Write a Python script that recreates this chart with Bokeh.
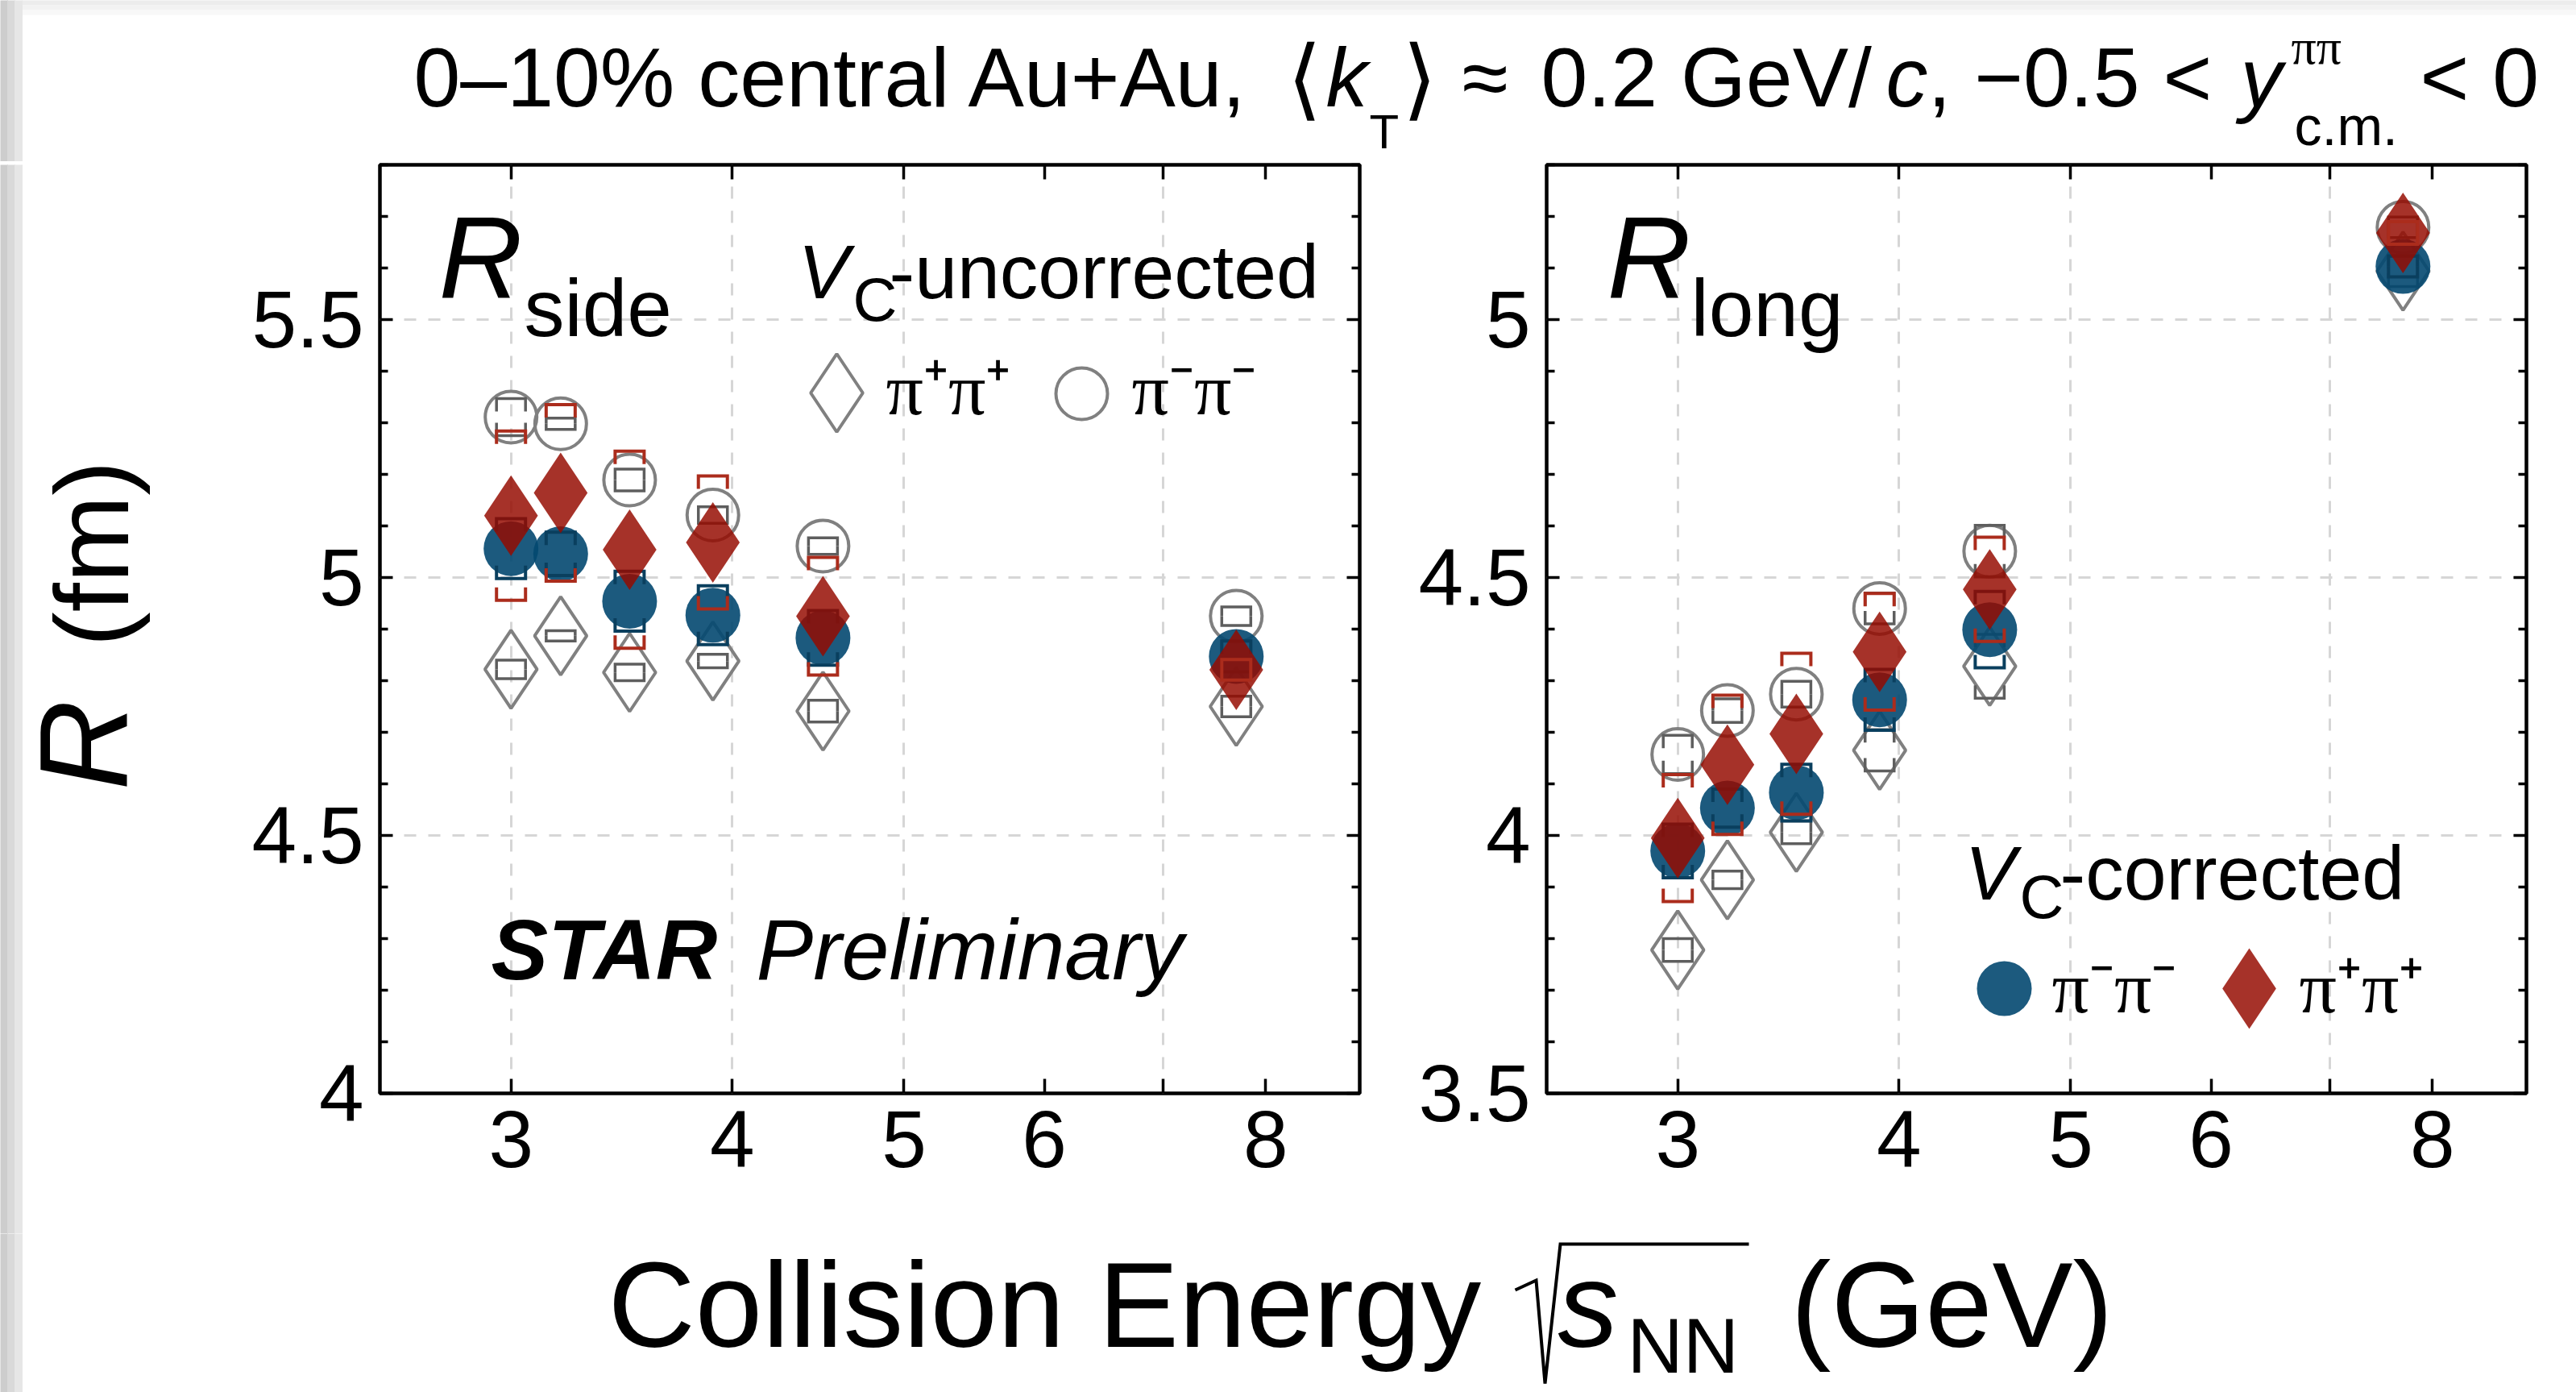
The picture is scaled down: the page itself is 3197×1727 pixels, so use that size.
import math
from bokeh.plotting import figure
from bokeh.models import Range1d, FixedTicker, LogAxis, LinearAxis, Label
from bokeh.layouts import column, row
from bokeh.embed import file_html
from bokeh.resources import INLINE

# ---------------- data ----------------
energy = [3.0, 3.2, 3.5, 3.9, 4.5, 7.7]          # sqrt(s_NN) (GeV)

# R_side (fm)
rside_pp_uncorr = [4.822, 4.887, 4.816, 4.838, 4.741, 4.750]
rside_pp_uncorr_sys = [0.018, 0.010, 0.016, 0.013, 0.021, 0.020]
rside_mm_uncorr = [5.311, 5.298, 5.189, 5.121, 5.061, 4.925]
rside_mm_uncorr_sys = [0.036, 0.011, 0.021, 0.016, 0.016, 0.018]
rside_mm_corr = [5.056, 5.046, 4.954, 4.927, 4.883, 4.847]
rside_mm_corr_sys = [0.058, 0.042, 0.058, 0.057, 0.053, 0.030]
rside_pp_corr = [5.120, 5.164, 5.054, 5.068, 4.925, 4.821]
rside_pp_corr_sys = [0.164, 0.171, 0.191, 0.129, 0.114, 0.020]

# R_long (fm)
rlong_pp_uncorr = [3.778, 3.914, 4.006, 4.165, 4.328, 5.094]
rlong_pp_uncorr_sys = [0.022, 0.017, 0.022, 0.040, 0.062, 0.030]
rlong_mm_uncorr = [4.157, 4.242, 4.274, 4.440, 4.551, 5.179]
rlong_mm_uncorr_sys = [0.037, 0.023, 0.025, 0.030, 0.050, 0.020]
rlong_mm_corr = [3.970, 4.053, 4.083, 4.263, 4.399, 5.103]
rlong_mm_corr_sys = [0.052, 0.037, 0.055, 0.059, 0.074, 0.020]
rlong_pp_corr = [3.995, 4.137, 4.197, 4.356, 4.477, 5.168]
rlong_pp_corr_sys = [0.123, 0.135, 0.156, 0.113, 0.101, 0.022]

x_ticks = [3, 4, 5, 6, 7, 8]
x_tick_labels = ["3", "4", "5", "6", "", "8"]
x_grid = [3, 4, 5, 7]
rside_range = (4.0, 5.8)
rside_ticks = [4.0, 4.5, 5.0, 5.5]
rside_tick_labels = ["4", "4.5", "5", "5.5"]
rlong_range = (3.5, 5.3)
rlong_ticks = [3.5, 4.0, 4.5, 5.0]
rlong_tick_labels = ["3.5", "4", "4.5", "5"]

# ---------------- style / layout ----------------
SANS = "Liberation Sans"
SERIF = "Liberation Serif"
GRAY = "#808080"
GRAY_BOX = "#5e5e5e"
BLUE = "#034870"
BLUE_BOX = "#0a3f5e"
RED = "#950b00"
RED_BOX = "#ab2c1c"
GRID = "#d6d6d6"
BASE_K = 0.36          # rendered baseline lies this many em below a label's anchor

XMIN, XMAX = 2.53, 9.04
FRAME_W, FRAME_H = 1216, 1152
PAGE_W, PAGE_H = 3197, 1727
ROW_TOP, FRAME_TOP, FRAME_BOTTOM, ROW_BOTTOM = 200, 204, 1356, 1530
YLAB_W, SPLIT_X = 250, 1720
LEFT_FRAME_X, RIGHT_FRAME_X = 471, 1919

PX_PER_LN = FRAME_W / math.log(XMAX / XMIN)
BOX_HALF_LN = 18 / PX_PER_LN


def page_to_data(frame_left, yr, px, py):
    x = XMIN * math.exp((px - frame_left) / PX_PER_LN)
    y = yr[1] - (py - FRAME_TOP) / FRAME_H * (yr[1] - yr[0])
    return x, y


def add_label(p, x, y, text, size, font=SANS, style="normal", align="left", angle=0.0):
    p.add_layout(Label(x=x, y=y, text=text, text_font=font, text_font_size=f"{size}px",
                       text_font_style=style, text_align=align, text_baseline="alphabetic",
                       text_color="black", angle=angle))


def brackets(p, yr, xs, ys, errs, color, width):
    leg_len = 16 / FRAME_H * (yr[1] - yr[0])
    mx, my = [], []
    for x, y, e in zip(xs, ys, errs):
        xl, xr = x * math.exp(-BOX_HALF_LN), x * math.exp(BOX_HALF_LN)
        leg = min(leg_len, e)
        mx.append([xl, xl, xr, xr])
        my.append([y + e - leg, y + e, y + e, y + e - leg])
        mx.append([xl, xl, xr, xr])
        my.append([y - e + leg, y - e, y - e, y - e + leg])
    p.multi_line(mx, my, line_color=color, line_width=width, line_join="miter", line_cap="butt")


def build_panel(fig_left, fig_right, frame_left, yr, yticks, ylabels, pp_u, pp_us, mm_u, mm_us,
                mm_c, mm_cs, pp_c, pp_cs):
    p = figure(x_axis_type="log", x_range=Range1d(XMIN, XMAX), y_range=Range1d(*yr),
               frame_width=FRAME_W, frame_height=FRAME_H,
               min_border_left=frame_left - fig_left,
               min_border_right=fig_right - (frame_left + FRAME_W),
               min_border_top=FRAME_TOP - ROW_TOP, min_border_bottom=ROW_BOTTOM - FRAME_BOTTOM,
               output_backend="svg", toolbar_location=None, tools="",
               background_fill_color="white", border_fill_color="white")
    p.add_layout(LogAxis(), "above")
    p.add_layout(LinearAxis(), "right")
    p.outline_line_color = "black"
    p.outline_line_width = 4.5
    yminor = [round(yr[0] + 0.1 * i, 1) for i in range(int(round((yr[1] - yr[0]) / 0.1)) + 1)]
    yminor = [v for v in yminor if all(abs(v - t) > 1e-6 for t in yticks)]
    for ax in p.xaxis:
        ax.ticker = FixedTicker(ticks=x_ticks)
        ax.major_tick_in, ax.major_tick_out = 18, 0
        ax.minor_tick_in, ax.minor_tick_out = 0, 0
    for ax in p.yaxis:
        ax.ticker = FixedTicker(ticks=yticks, minor_ticks=yminor)
        ax.major_tick_in, ax.major_tick_out = 16, 0
        ax.minor_tick_in, ax.minor_tick_out = 10, 0
    for ax in p.axis:
        ax.axis_line_color = None
        ax.major_tick_line_color = "black"
        ax.minor_tick_line_color = "black"
        ax.major_tick_line_width = 3.5
        ax.minor_tick_line_width = 3.5
        ax.major_label_text_font = SANS
        ax.major_label_text_color = "black"
    b = p.below[0]
    b.major_label_overrides = {t: s for t, s in zip(x_ticks, x_tick_labels)}
    b.major_label_text_font_size = "100px"
    b.major_label_standoff = 22
    l = p.left[0]
    l.major_label_overrides = {t: s for t, s in zip(yticks, ylabels)}
    l.major_label_text_font_size = "100px"
    l.major_label_standoff = 20
    for ax in (p.above[0], p.right[0]):
        ax.major_label_overrides = {t: "" for t in ax.ticker.ticks}
        ax.major_label_text_font_size = "1px"
        ax.major_label_standoff = 0
    p.xgrid.ticker = FixedTicker(ticks=x_grid)
    p.ygrid.ticker = FixedTicker(ticks=[t for t in yticks if t > yr[0]])
    p.grid.grid_line_color = GRID
    p.grid.grid_line_width = 3
    p.grid.grid_line_dash = "15 15"

    p.scatter(energy, pp_u, marker="diamond", size=97, fill_color=None, line_color=GRAY, line_width=4)
    p.scatter(energy, mm_u, marker="circle", size=64, fill_color=None, line_color=GRAY, line_width=4)
    brackets(p, yr, energy, pp_u, pp_us, GRAY_BOX, 3.5)
    brackets(p, yr, energy, mm_u, mm_us, GRAY_BOX, 3.5)
    p.scatter(energy, mm_c, marker="circle", size=68, fill_color=BLUE, fill_alpha=0.9, line_color=None)
    brackets(p, yr, energy, mm_c, mm_cs, BLUE_BOX, 4)
    p.scatter(energy, pp_c, marker="diamond", size=100, fill_color=RED, fill_alpha=0.84, line_color=None)
    brackets(p, yr, energy, pp_c, pp_cs, RED_BOX, 4)
    return p


left = build_panel(YLAB_W, SPLIT_X, LEFT_FRAME_X, rside_range, rside_ticks, rside_tick_labels,
                   rside_pp_uncorr, rside_pp_uncorr_sys, rside_mm_uncorr, rside_mm_uncorr_sys,
                   rside_mm_corr, rside_mm_corr_sys, rside_pp_corr, rside_pp_corr_sys)
right = build_panel(SPLIT_X, PAGE_W, RIGHT_FRAME_X, rlong_range, rlong_ticks, rlong_tick_labels,
                    rlong_pp_uncorr, rlong_pp_uncorr_sys, rlong_mm_uncorr, rlong_mm_uncorr_sys,
                    rlong_mm_corr, rlong_mm_corr_sys, rlong_pp_corr, rlong_pp_corr_sys)


def L(p, fl, yr, px, py, text, size, **kw):
    x, y = page_to_data(fl, yr, px, py - BASE_K * size)
    add_label(p, x, y, text, size, **kw)


# left panel texts
L(left, LEFT_FRAME_X, rside_range, 544, 371, "R", 144, style="italic")
L(left, LEFT_FRAME_X, rside_range, 650, 417, "side", 100)
L(left, LEFT_FRAME_X, rside_range, 990, 371, "V", 95, style="italic")
L(left, LEFT_FRAME_X, rside_range, 1058, 398, "C", 76)
L(left, LEFT_FRAME_X, rside_range, 1103, 371, "-uncorrected", 95)
L(left, LEFT_FRAME_X, rside_range, 1099, 516, "π⁺π⁺", 92, font=SERIF)
L(left, LEFT_FRAME_X, rside_range, 1404, 516, "π⁻π⁻", 92, font=SERIF)
L(left, LEFT_FRAME_X, rside_range, 609, 1216, "STAR", 106, style="bold italic")
L(left, LEFT_FRAME_X, rside_range, 938, 1216, "Preliminary", 106, style="italic")
lx, ly = page_to_data(LEFT_FRAME_X, rside_range, 1038, 487)
left.scatter([lx], [ly], marker="diamond", size=97, fill_color=None, line_color=GRAY, line_width=4)
lx, ly = page_to_data(LEFT_FRAME_X, rside_range, 1342, 488)
left.scatter([lx], [ly], marker="circle", size=64, fill_color=None, line_color=GRAY, line_width=4)

# right panel texts
L(right, RIGHT_FRAME_X, rlong_range, 1994, 371, "R", 144, style="italic")
L(right, RIGHT_FRAME_X, rlong_range, 2098, 417, "long", 100)
L(right, RIGHT_FRAME_X, rlong_range, 2438, 1117, "V", 95, style="italic")
L(right, RIGHT_FRAME_X, rlong_range, 2506, 1139, "C", 76)
L(right, RIGHT_FRAME_X, rlong_range, 2556, 1117, "-corrected", 95)
L(right, RIGHT_FRAME_X, rlong_range, 2546, 1258, "π⁻π⁻", 92, font=SERIF)
L(right, RIGHT_FRAME_X, rlong_range, 2853, 1258, "π⁺π⁺", 92, font=SERIF)
lx, ly = page_to_data(RIGHT_FRAME_X, rlong_range, 2487, 1226)
right.scatter([lx], [ly], marker="circle", size=68, fill_color=BLUE, fill_alpha=0.9, line_color=None)
lx, ly = page_to_data(RIGHT_FRAME_X, rlong_range, 2791, 1226)
right.scatter([lx], [ly], marker="diamond", size=100, fill_color=RED, fill_alpha=0.84, line_color=None)


def helper_fig(w, h):
    p = figure(frame_width=w, frame_height=h, x_range=Range1d(0, w), y_range=Range1d(0, h),
               x_axis_type=None, y_axis_type=None, min_border=0, output_backend="svg",
               toolbar_location=None, tools="", outline_line_color=None,
               background_fill_color="white", border_fill_color="white")
    return p


def shadow(p, h):
    # light drop-shadow strip along the left edge of the slide
    lefts = [-4, 9, 18]
    rights = [9, 18, 27]
    cols = ["#cdcdcd", "#d9d9d9", "#e6e6e6"]
    p.quad(left=lefts, right=rights, bottom=[-4] * 3, top=[h + 4] * 3,
           fill_color=cols, line_color=cols)


# title figure: page y 0..200
title = helper_fig(PAGE_W, ROW_TOP)
title.quad(left=[27, 27, 27], right=[PAGE_W + 4] * 3,
           bottom=[ROW_TOP - 6, ROW_TOP - 12, ROW_TOP - 18], top=[ROW_TOP + 4, ROW_TOP - 6, ROW_TOP - 12],
           fill_color=["#ececec", "#f2f2f2", "#f8f8f8"], line_color=None)
shadow(title, ROW_TOP)


def T(px, py, text, size, **kw):
    add_label(title, px, ROW_TOP - (py - BASE_K * size), text, size, **kw)


T(513, 133, "0–10% central Au+Au,", 104)
T(1597, 136, "⟨", 110, font="DejaVu Sans")
T(1645, 133, "k", 104, style="italic")
T(1699, 185, "T", 60)
T(1740, 136, "⟩", 110, font="DejaVu Sans")
T(1814, 133, "≈", 104)
T(1912, 133, "0.2 GeV/", 104)
T(2340, 133, "c", 104, style="italic")
T(2392, 133, ", −0.5 <", 104)
T(2780, 133, "y", 104, style="italic")
T(2843, 80, "ππ", 62, font=SERIF)
T(2847, 180, "c.m.", 68)
T(3003, 133, "< 0", 104)

# y-axis title figure: page x 0..250, y 200..1530
ylab = helper_fig(YLAB_W, ROW_BOTTOM - ROW_TOP)
shadow(ylab, ROW_BOTTOM - ROW_TOP)


def Y(px, py, text, size, **kw):
    add_label(ylab, px - BASE_K * size, ROW_BOTTOM - py, text, size, angle=math.pi / 2, **kw)


Y(160, 864, "R", 155, style="italic", align="right")
Y(160, 798, "(fm)", 130, align="left")

# bottom figure: page y 1530..1727
bottom = helper_fig(PAGE_W, PAGE_H - ROW_BOTTOM)
shadow(bottom, PAGE_H - ROW_BOTTOM)


def B(px, py, text, size, **kw):
    add_label(bottom, px, PAGE_H - (py - BASE_K * size), text, size, **kw)


B(754, 1672, "Collision Energy", 150)
B(1933, 1672, "s", 150, style="italic")
B(2019, 1704, "NN", 96)
B(2222, 1672, "(GeV)", 150)
rad_px = [1880, 1906, 1917, 1936, 2170]
rad_py = [1600, 1588, 1716, 1543, 1543]
bottom.line(rad_px, [PAGE_H - y for y in rad_py], line_color="black", line_width=4, line_join="miter")

layout = column(title, row(ylab, left, right), bottom)
open("out.html", "w").write(file_html(layout, INLINE))
